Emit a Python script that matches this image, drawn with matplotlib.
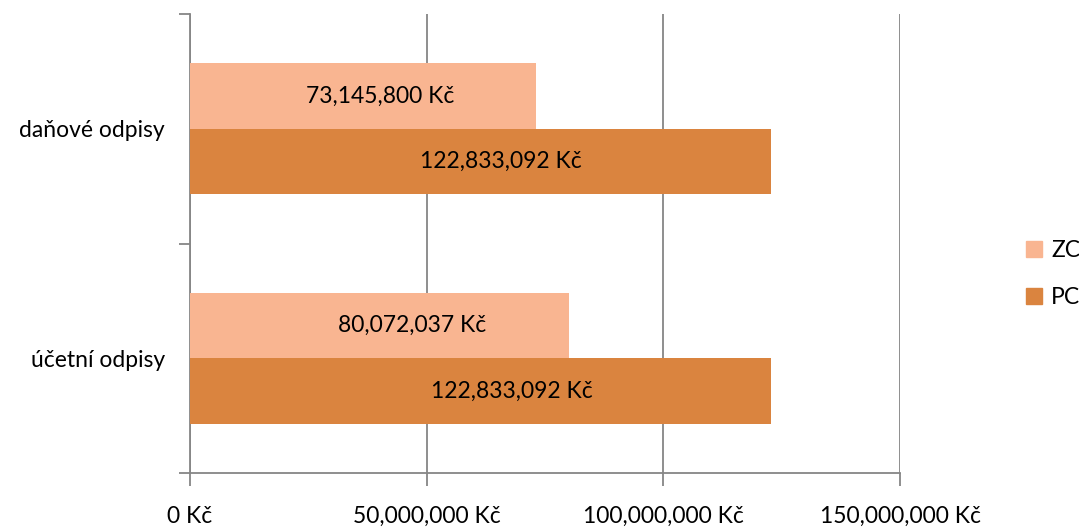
import matplotlib
matplotlib.use("Agg")
import matplotlib.pyplot as plt
from matplotlib.patches import Patch

categories = ["účetní odpisy", "daňové odpisy"]
zc_values = [80072037, 73145800]
pc_values = [122833092, 122833092]
series_names = ["ZC", "PC"]
xticks = [0, 50000000, 100000000, 150000000]

# label horizontal offsets from bar centre (pixels), as placed in the reference
zc_label_dx = [33, 17]
pc_label_dx = [31, 20]

plt.rcParams['font.family'] = ['Lato', 'DejaVu Sans']

zc_color = "#F9B591"
pc_color = "#DA843F"
grid_color = "#868686"
fs = 16.5

fig = plt.figure(figsize=(10.79, 5.29), dpi=100)
ax = fig.add_axes([190/1079, 1-473/529, 710/1079, 459/529])

h = 0.285
ypos = list(range(len(categories)))
zc_y = [y + h/2 for y in ypos]
pc_y = [y - h/2 for y in ypos]
b1 = ax.barh(zc_y, zc_values, height=h, color=zc_color, zorder=3)
b2 = ax.barh(pc_y, pc_values, height=h, color=pc_color, zorder=3)

def fmt(v):
    return f"{v:,.0f} Kč"

for bars, vals, dxs in ((b1, zc_values, zc_label_dx), (b2, pc_values, pc_label_dx)):
    for bar, v, dx in zip(bars, vals, dxs):
        ax.annotate(fmt(v), (bar.get_x() + bar.get_width()/2, bar.get_y() + bar.get_height()/2),
                    xytext=(dx*0.72, 0), textcoords='offset points',
                    ha="center", va="center", fontsize=fs, color="black", zorder=4)

ax.set_xlim(0, 150000000)
ax.set_ylim(-0.5, len(categories) - 0.5)
ax.set_xticks(xticks)
ax.set_xticklabels([fmt(v) for v in xticks], fontsize=fs)
ax.tick_params(axis='x', length=9, color=grid_color, width=1.3, pad=15)

ax.set_yticks([y for y in ypos], labels=categories, minor=False)
ax.tick_params(axis='y', which='major', length=0, labelsize=fs, pad=18)
ax.set_yticks([-0.5, 0.5, 1.5], minor=True)
ax.tick_params(axis='y', which='minor', length=8, color=grid_color, width=1.3)

ax.grid(axis='x', color=grid_color, linewidth=1.3, zorder=0)
for s in ['top', 'right']:
    ax.spines[s].set_visible(False)
for s in ['left', 'bottom']:
    ax.spines[s].set_color(grid_color)
    ax.spines[s].set_linewidth(1.3)

handles = [Patch(color=zc_color, label=series_names[0]), Patch(color=pc_color, label=series_names[1])]
fig.legend(handles=handles, loc='center left', bbox_to_anchor=(1026/1079, 1-274/529),
           frameon=False, fontsize=fs, handlelength=0.7, handleheight=0.7,
           labelspacing=1.1, handletextpad=0.4, borderaxespad=0, borderpad=0)

fig.savefig("out.png", dpi=100)
